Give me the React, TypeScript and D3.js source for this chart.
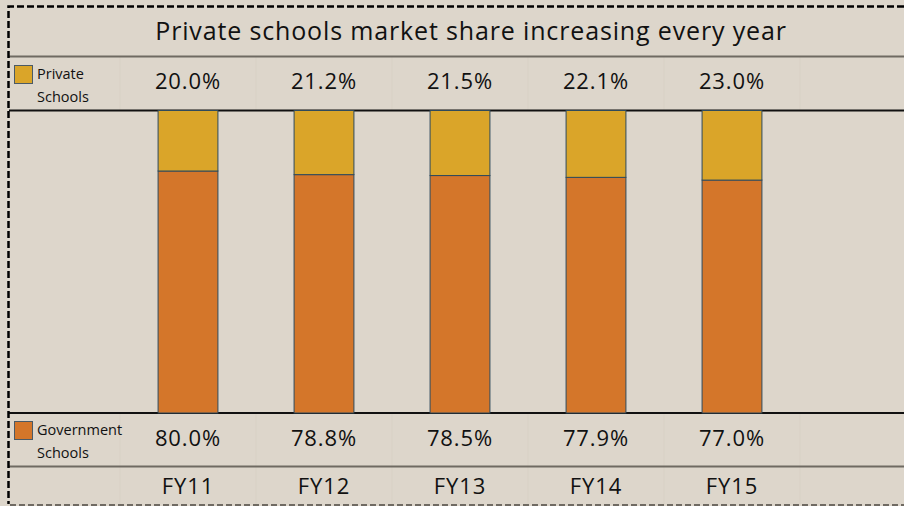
import React, { useEffect, useRef } from 'react';
import * as d3 from 'd3';

const years = ['FY11', 'FY12', 'FY13', 'FY14', 'FY15'];
const privateShare = [20.0, 21.2, 21.5, 22.1, 23.0];
const governmentShare = [80.0, 78.8, 78.5, 77.9, 77.0];

const title = 'Private schools market share increasing every year';
const privateColor = '#daa529';
const govColor = '#d4762a';

const App: React.FC = () => {
  const svgRef = useRef<SVGSVGElement>(null);
  const width = 904;
  const height = 506;

  useEffect(() => {
    if (!svgRef.current) return;
    const svg = d3.select(svgRef.current);
    svg.selectAll('*').remove();

    const font = '"Open Sans", "DejaVu Sans", sans-serif';

    // background
    svg.append('rect')
      .attr('width', width)
      .attr('height', height)
      .attr('fill', '#ddd6cb');

    const plotTop = 110.5;
    const plotBottom = 413;

    const xScale = d3.scaleBand<string>()
      .domain(years)
      .range([120, 800])
      .paddingInner(0.56)
      .paddingOuter(0.28);

    const yScale = d3.scaleLinear()
      .domain([0, 100])
      .range([plotBottom, plotTop]);

    // faint column ticks in the header rows
    const step = xScale.step();
    const bounds = d3.range(years.length + 1).map(i => 120 + i * step);
    [[57, 110], [413, 466], [467, 505]].forEach(([y1, y2]) => {
      svg.append('g')
        .selectAll('line')
        .data(bounds)
        .enter().append('line')
        .attr('x1', d => d).attr('x2', d => d)
        .attr('y1', y1).attr('y2', y2)
        .attr('stroke', '#d8d1c5')
        .attr('stroke-width', 1);
    });

    // horizontal rules
    const rules = [
      { y: 56.5, color: '#6f6a62', w: 2 },
      { y: 110.5, color: '#111', w: 2 },
      { y: 413, color: '#111', w: 2 },
      { y: 466.5, color: '#6f6a62', w: 2 },
    ];
    svg.append('g')
      .selectAll('line')
      .data(rules)
      .enter().append('line')
      .attr('x1', 9).attr('x2', width)
      .attr('y1', d => d.y).attr('y2', d => d.y)
      .attr('stroke', d => d.color)
      .attr('stroke-width', d => d.w);

    // dashed border
    svg.append('path')
      .attr('d', `M${width},6.5 H8.5 V504`)
      .attr('fill', 'none')
      .attr('stroke', '#000')
      .attr('stroke-width', 2.5)
      .attr('stroke-dasharray', '7,3');
    svg.append('line')
      .attr('x1', 10).attr('x2', width)
      .attr('y1', 505).attr('y2', 505)
      .attr('stroke', '#6f6a62')
      .attr('stroke-width', 2)
      .attr('stroke-dasharray', '6,3');

    // title
    svg.append('text')
      .attr('x', 471)
      .attr('y', 40)
      .attr('text-anchor', 'middle')
      .style('font-family', font)
      .style('font-size', '25px')
      .style('letter-spacing', '0.85px')
      .attr('fill', '#111')
      .text(title);

    // bars
    const g = svg.append('g');
    years.forEach((yr, i) => {
      const x = xScale(yr) as number;
      const gov = governmentShare[i];
      const pri = privateShare[i];
      g.append('rect')
        .attr('x', x)
        .attr('y', yScale(gov))
        .attr('width', xScale.bandwidth())
        .attr('height', yScale(0) - yScale(gov))
        .attr('fill', govColor)
        .attr('stroke', '#2f4a5c')
        .attr('stroke-width', 1);
      g.append('rect')
        .attr('x', x)
        .attr('y', yScale(gov + pri))
        .attr('width', xScale.bandwidth())
        .attr('height', yScale(gov) - yScale(gov + pri))
        .attr('fill', privateColor)
        .attr('stroke', '#2f4a5c')
        .attr('stroke-width', 1);
    });

    // value rows
    const cx = (yr: string) => (xScale(yr) as number) + xScale.bandwidth() / 2;
    const addRow = (labels: string[], y: number) => {
      svg.append('g')
        .selectAll('text')
        .data(years)
        .enter().append('text')
        .attr('x', d => cx(d))
        .attr('y', y)
        .attr('text-anchor', 'middle')
        .style('font-family', font)
        .style('font-size', '22px')
        .style('letter-spacing', '0.9px')
        .attr('fill', '#111')
        .text((_, i) => labels[i]);
    };
    addRow(privateShare.map(v => v.toFixed(1) + '%'), 89);
    addRow(governmentShare.map(v => v.toFixed(1) + '%'), 446);
    addRow(years, 494);

    // legend
    const legend = [
      { label: ['Private', 'Schools'], color: privateColor, y: 65, base: 79 },
      { label: ['Government', 'Schools'], color: govColor, y: 421, base: 435 },
    ];
    legend.forEach(l => {
      svg.append('rect')
        .attr('x', 14.5).attr('y', l.y + 0.5)
        .attr('width', 18).attr('height', 18)
        .attr('fill', l.color)
        .attr('stroke', '#4a5a66')
        .attr('stroke-width', 1);
      l.label.forEach((t, j) => {
        svg.append('text')
          .attr('x', 37)
          .attr('y', l.base + j * 23)
          .style('font-family', font)
          .style('font-size', '14.5px')
          .attr('fill', '#111')
          .text(t);
      });
    });
  }, []);

  return (
    <svg
      ref={svgRef}
      width={width}
      height={height}
      style={{ position: 'absolute', left: 0, top: 0, display: 'block' }}
    />
  );
};

export default App;
